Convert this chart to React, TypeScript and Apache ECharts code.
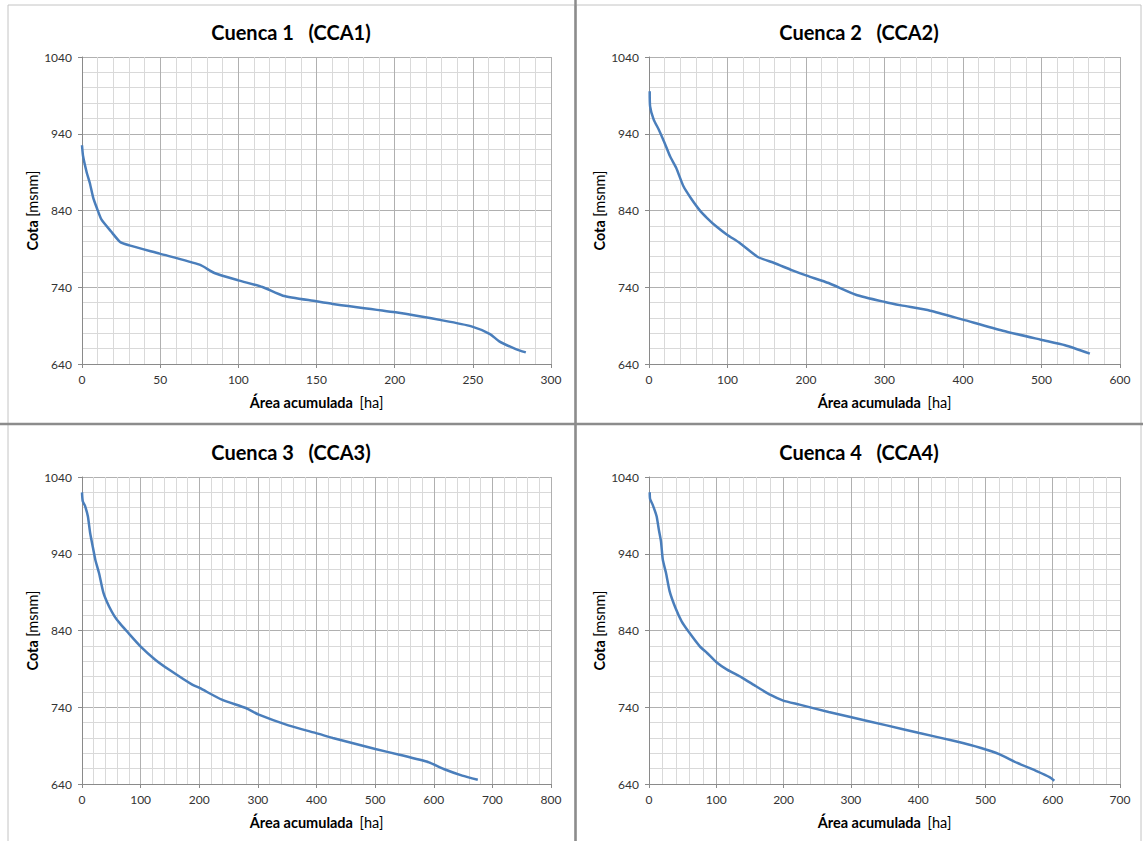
import React, { useEffect, useRef } from "react";
import * as echarts from "echarts";

// ---- Data ----
const TITLES = ["Cuenca 1   (CCA1)", "Cuenca 2   (CCA2)", "Cuenca 3   (CCA3)", "Cuenca 4   (CCA4)"];
const X_MAX = [300, 600, 800, 700];
const X_INTERVAL = [50, 100, 100, 100];
const Y_MIN = 640;
const Y_MAX = 1040;
const Y_INTERVAL = 100;

const AREA_1 = [0, 0.7, 3.1, 5, 7.1, 9.5, 12.5, 18.5, 24.4, 30.3, 49.7, 75.2, 84.7, 100, 115.4, 128.5, 149.8, 160.4, 200.6, 231.4, 249.1, 261, 266.9, 277.5, 283.9];
const COTA_1 = [925, 910.6, 888.9, 875.8, 857.2, 843.3, 828, 812.9, 799, 794.6, 783.8, 769.4, 758.6, 749, 740.3, 729, 721.7, 718.2, 707.3, 696.5, 689, 679, 669.5, 659.5, 655.2];

const AREA_2 = [0.9, 1.4, 6, 12.5, 19.9, 26.8, 34.7, 43.9, 53.2, 64.7, 74, 85.5, 99.4, 115.6, 138.7, 159.5, 182.6, 201, 228.8, 263.5, 300.5, 321.3, 358.2, 399.9, 450.7, 499.2, 530, 561.6];
const COTA_2 = [995.3, 975.7, 958.4, 945.3, 928, 910.6, 895.4, 871.5, 856.3, 840.2, 830.2, 819.4, 808.5, 797.7, 779.4, 771.6, 762, 755.1, 745.5, 730.3, 720.8, 716.4, 709.5, 697.8, 683.4, 671.7, 664.5, 653.5];

const AREA_3 = [0, 1.3, 5, 10, 13.9, 17.7, 22.7, 29, 36.6, 46, 55.5, 65, 77.6, 99.7, 124.9, 150.2, 188, 200.6, 238.5, 279.5, 301.6, 352, 402.5, 427.8, 500.3, 541.3, 591.8, 617, 648.6, 675.1];
const COTA_3 = [1020, 1008.3, 1002.6, 988.8, 967, 951.8, 932.3, 914.9, 888.9, 871.5, 858.5, 848.9, 838, 819.4, 802, 788.1, 769.4, 765.1, 749.9, 739, 730.3, 716.4, 705.6, 699.9, 685.6, 678.2, 668.2, 659.5, 650.9, 645.6];

const AREA_4 = [1.1, 1.6, 5.4, 11.3, 14.6, 17.8, 20.5, 25.3, 30.7, 39.4, 48.5, 59.3, 75.5, 86.3, 99.8, 116, 137.5, 159.1, 180.7, 199.5, 223.8, 267, 299.3, 353.2, 401.8, 455.7, 493.4, 520.4, 547.4, 577, 595.9, 602.4];
const COTA_4 = [1020, 1011.3, 1004, 988.8, 971.4, 956.2, 932.3, 914.9, 891, 869.3, 852, 838, 819.4, 810.7, 799, 789, 779, 767.3, 756, 748.6, 743.4, 733.8, 727.3, 716.4, 706.4, 695.6, 686.9, 679, 667.4, 656.5, 648.7, 644.3];

const AREAS = [AREA_1, AREA_2, AREA_3, AREA_4];
const COTAS = [COTA_1, COTA_2, COTA_3, COTA_4];

// ---- Layout ----
const GRIDS = [
  { left: 82, top: 57, width: 469, height: 307 },
  { left: 649, top: 57, width: 471, height: 307 },
  { left: 82, top: 477, width: 469, height: 307 },
  { left: 649, top: 477, width: 471, height: 307 },
];

const FONT = "Lato, 'Open Sans', sans-serif";
const LINE_COLOR = "#4a7ebb";
const MAJOR = "#b0b0b0";
const MINOR = "#d9d9d9";
const AXIS = "#8a8a8a";

export default function App() {
  const ref = useRef<HTMLDivElement>(null);

  useEffect(() => {
    if (!ref.current) return;
    const chart = echarts.init(ref.current, undefined, { renderer: "svg" });

    const plain = (v: number) => String(v);

    const xAxes = GRIDS.map((_, i) => ({
      type: "value",
      gridIndex: i,
      min: 0,
      max: X_MAX[i],
      interval: X_INTERVAL[i],
      name: "{b|Área acumulada}  {n|[ha]}",
      nameLocation: "middle",
      nameGap: 31,
      nameTextStyle: {
        rich: {
          b: { fontFamily: FONT, fontWeight: "bold", fontSize: 14.5, color: "#000" },
          n: { fontFamily: FONT, fontSize: 14.5, color: "#000" },
        },
      },
      axisLine: { show: true, lineStyle: { color: AXIS, width: 1 } },
      axisTick: { show: true, length: 4, lineStyle: { color: AXIS } },
      axisLabel: { color: "#333", fontFamily: FONT, fontSize: 12, margin: 9, formatter: plain },
      splitLine: { show: true, lineStyle: { color: MAJOR, width: 1 } },
      minorTick: { show: false, splitNumber: 5 },
      minorSplitLine: { show: true, lineStyle: { color: MINOR, width: 1 } },
    }));

    const yAxes = GRIDS.map((_, i) => ({
      type: "value",
      gridIndex: i,
      min: Y_MIN,
      max: Y_MAX,
      interval: Y_INTERVAL,
      name: "{b|Cota} {n|[msnm]}",
      nameLocation: "middle",
      nameRotate: 90,
      nameGap: 40,
      nameTextStyle: {
        rich: {
          b: { fontFamily: FONT, fontWeight: "bold", fontSize: 14.5, color: "#000" },
          n: { fontFamily: FONT, fontSize: 14.5, color: "#000" },
        },
      },
      axisLine: { show: true, lineStyle: { color: AXIS, width: 1 } },
      axisTick: { show: true, length: 4, lineStyle: { color: AXIS } },
      axisLabel: { color: "#333", fontFamily: FONT, fontSize: 12, margin: 10, formatter: plain },
      splitLine: { show: true, lineStyle: { color: MAJOR, width: 1 } },
      minorTick: { show: false, splitNumber: 5 },
      minorSplitLine: { show: true, lineStyle: { color: MINOR, width: 1 } },
    }));

    const series = GRIDS.map((_, i) => ({
      type: "line",
      xAxisIndex: i,
      yAxisIndex: i,
      data: AREAS[i].map((a, k) => [a, COTAS[i][k]]),
      showSymbol: false,
      smooth: 0.2,
      lineStyle: { color: LINE_COLOR, width: 2.5 },
    }));

    const titleCenters = [
      [291, 32],
      [859, 32],
      [291, 452],
      [859, 452],
    ];

    const graphics: any[] = [
      { type: "rect", shape: { x: 8, y: 5, width: 567, height: 419 }, style: { fill: "none", stroke: "#c4c4c4", lineWidth: 1 }, silent: true, z: 0 },
      { type: "rect", shape: { x: 576, y: 5, width: 565, height: 419 }, style: { fill: "none", stroke: "#c4c4c4", lineWidth: 1 }, silent: true, z: 0 },
      { type: "rect", shape: { x: 8, y: 424, width: 567, height: 430 }, style: { fill: "none", stroke: "#c4c4c4", lineWidth: 1 }, silent: true, z: 0 },
      { type: "rect", shape: { x: 576, y: 424, width: 565, height: 430 }, style: { fill: "none", stroke: "#c4c4c4", lineWidth: 1 }, silent: true, z: 0 },
      { type: "line", shape: { x1: 575.5, y1: 0, x2: 575.5, y2: 841 }, style: { stroke: "#8c8c8c", lineWidth: 2.5 }, silent: true, z: 1 },
      { type: "line", shape: { x1: 0, y1: 424, x2: 1143, y2: 424 }, style: { stroke: "#8c8c8c", lineWidth: 2.5 }, silent: true, z: 1 },
      ...TITLES.map((t, i) => ({
        type: "text",
        x: titleCenters[i][0],
        y: titleCenters[i][1],
        silent: true,
        style: {
          text: t,
          align: "center",
          verticalAlign: "middle",
          fontFamily: FONT,
          fontWeight: "bold",
          fontSize: 20,
          fill: "#000",
        },
      })),
    ];

    chart.setOption({
      animation: false,
      backgroundColor: "#ffffff",
      grid: GRIDS.map((g) => ({ ...g, containLabel: false })),
      xAxis: xAxes,
      yAxis: yAxes,
      series,
      graphic: graphics,
    });

    return () => chart.dispose();
  }, []);

  return (
    <div
      ref={ref}
      style={{ position: "fixed", left: 0, top: 0, width: 1143, height: 841, background: "#fff" }}
    />
  );
}
